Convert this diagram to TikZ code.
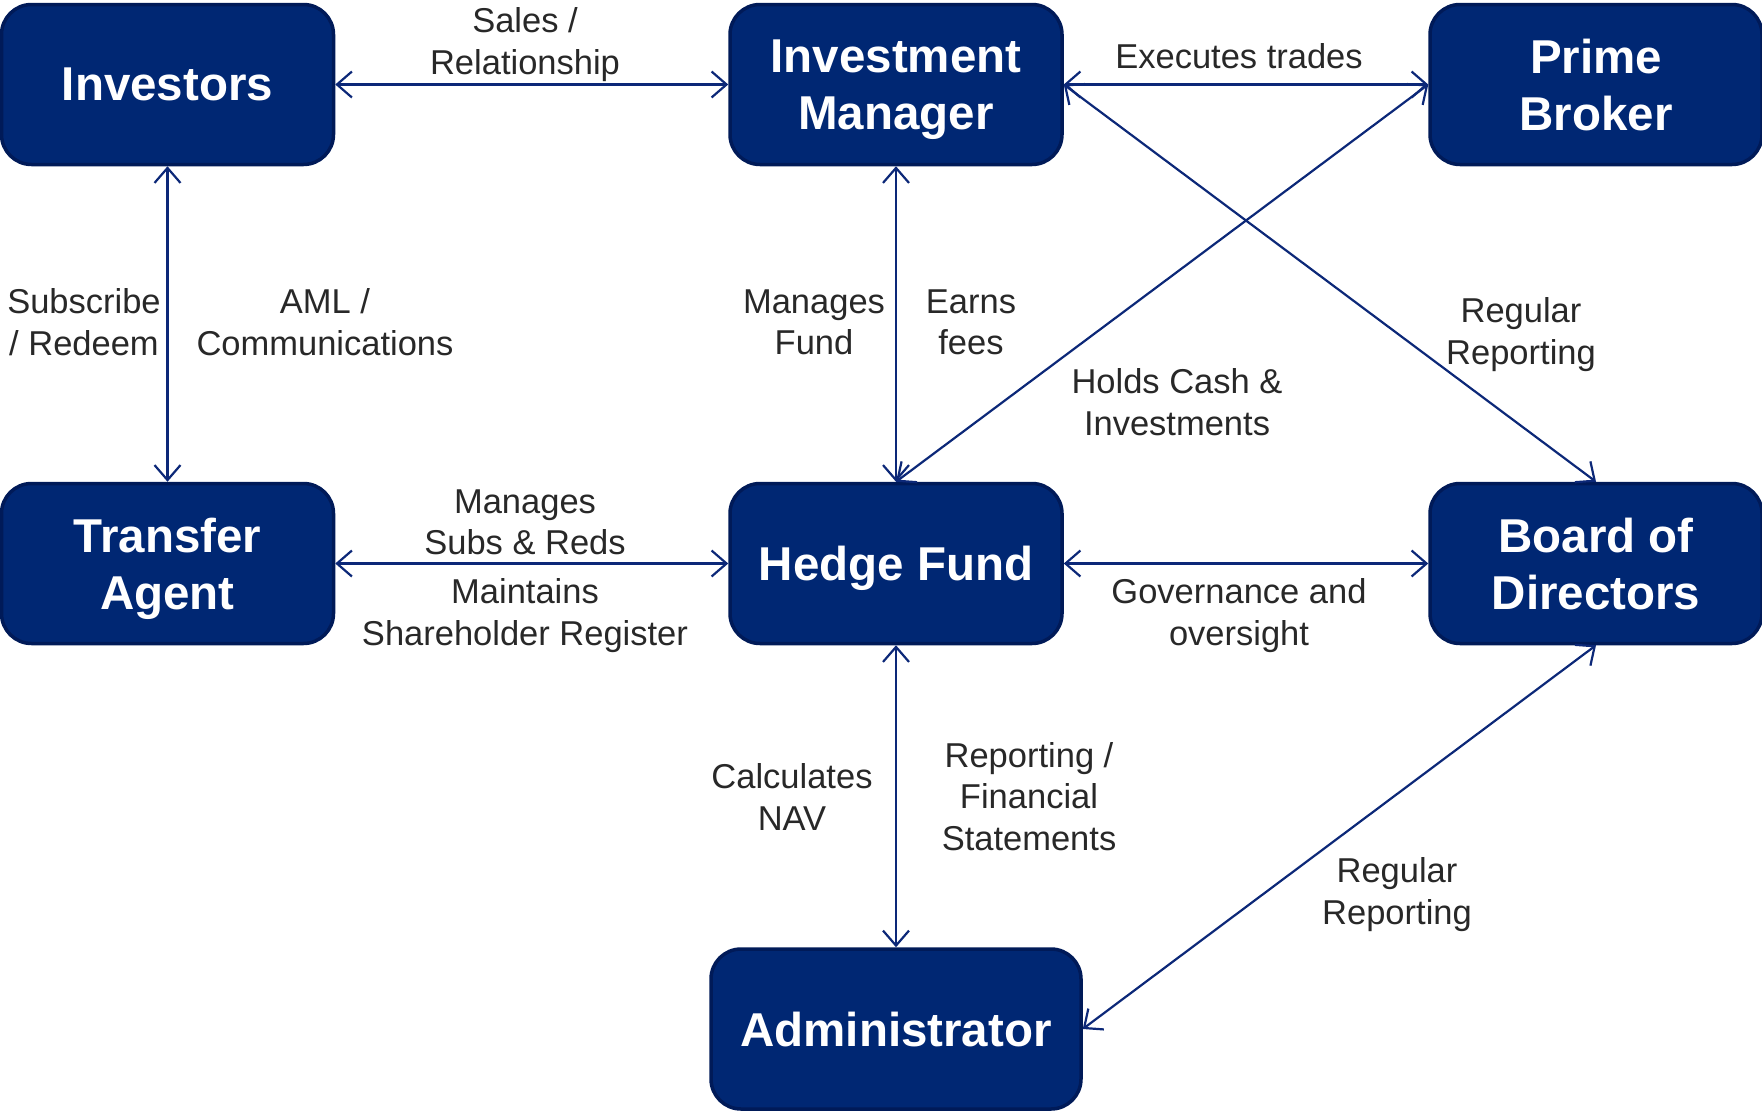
\documentclass[tikz,border=0pt]{standalone}
\usepackage{fontspec}
\setmainfont{Liberation Sans}
\usetikzlibrary{arrows.meta}
\definecolor{boxfill}{RGB}{0,39,115}
\definecolor{boxline}{RGB}{0,26,88}
\definecolor{conn}{RGB}{12,40,120}
\definecolor{lbl}{RGB}{40,40,40}
\tikzset{
  entity/.style={draw=boxline, line width=3.5pt, fill=boxfill, rounded corners=30pt,
    minimum width=332pt, minimum height=160pt, text=white, text depth=-4pt,
    font=\bfseries\fontsize{47.5}{57}\selectfont, align=center, inner sep=0pt},
  lab/.style={text=lbl, font=\fontsize{34.5}{41.5}\selectfont, align=center, inner sep=0pt,
    text depth=0pt},
  link/.style={draw=conn, line width=2.2pt,
    {Straight Barb[length=15pt,width=26pt]}-{Straight Barb[length=15pt,width=26pt]}}
}
\begin{document}
\begin{tikzpicture}[x=1pt,y=-1pt]
\useasboundingbox (0,0) rectangle (1762,1114);
\node[entity] (inv) at (167.5,84.5) {Investors};
\node[entity] (im) at (896,84.5) {Investment\\Manager};
\node[entity] (pb) at (1596,84.5) {Prime\\Broker};
\node[entity] (ta) at (167.5,563.5) {Transfer\\Agent};
\node[entity] (hf) at (896,563.5) {Hedge Fund};
\node[entity] (bod) at (1596,563.5) {Board of\\Directors};
\node[entity, minimum width=370pt] (adm) at (896,1029) {Administrator};

\draw[link] (inv) -- (im);
\draw[link] (im) -- (pb);
\draw[link] (im.east) -- (bod.north);
\draw[link] (hf.north) -- (pb.west);
\draw[link] (inv) -- (ta);
\draw[link] (im) -- (hf);
\draw[link] (ta) -- (hf);
\draw[link] (hf) -- (bod);
\draw[link] (hf) -- (adm);
\draw[link] (bod.south) -- (adm.east);

\node[lab] (l1) at (525,41) {Sales /\\Relationship};
\node[lab] (l2) at (1239,56) {Executes trades};
\node[lab] (l3) at (84,322) {Subscribe\\/ Redeem};
\node[lab] (l4) at (325,322) {AML /\\Communications};
\node[lab] (l5) at (814,322) {Manages\\Fund};
\node[lab] (l6) at (971,322) {Earns\\fees};
\node[lab] (l7) at (1521,331) {Regular\\Reporting};
\node[lab] (l8) at (1177,402) {Holds Cash \&\\Investments};
\node[lab] (l9) at (525,522) {Manages\\Subs \& Reds};
\node[lab] (l10) at (525,612) {Maintains\\Shareholder Register};
\node[lab] (l11) at (1239,612) {Governance and\\oversight};
\node[lab] (l12) at (792,797) {Calculates\\NAV};
\node[lab] (l13) at (1029,796) {Reporting /\\Financial\\Statements};
\node[lab] (l14) at (1397,891) {Regular\\Reporting};
\end{tikzpicture}
\end{document}
